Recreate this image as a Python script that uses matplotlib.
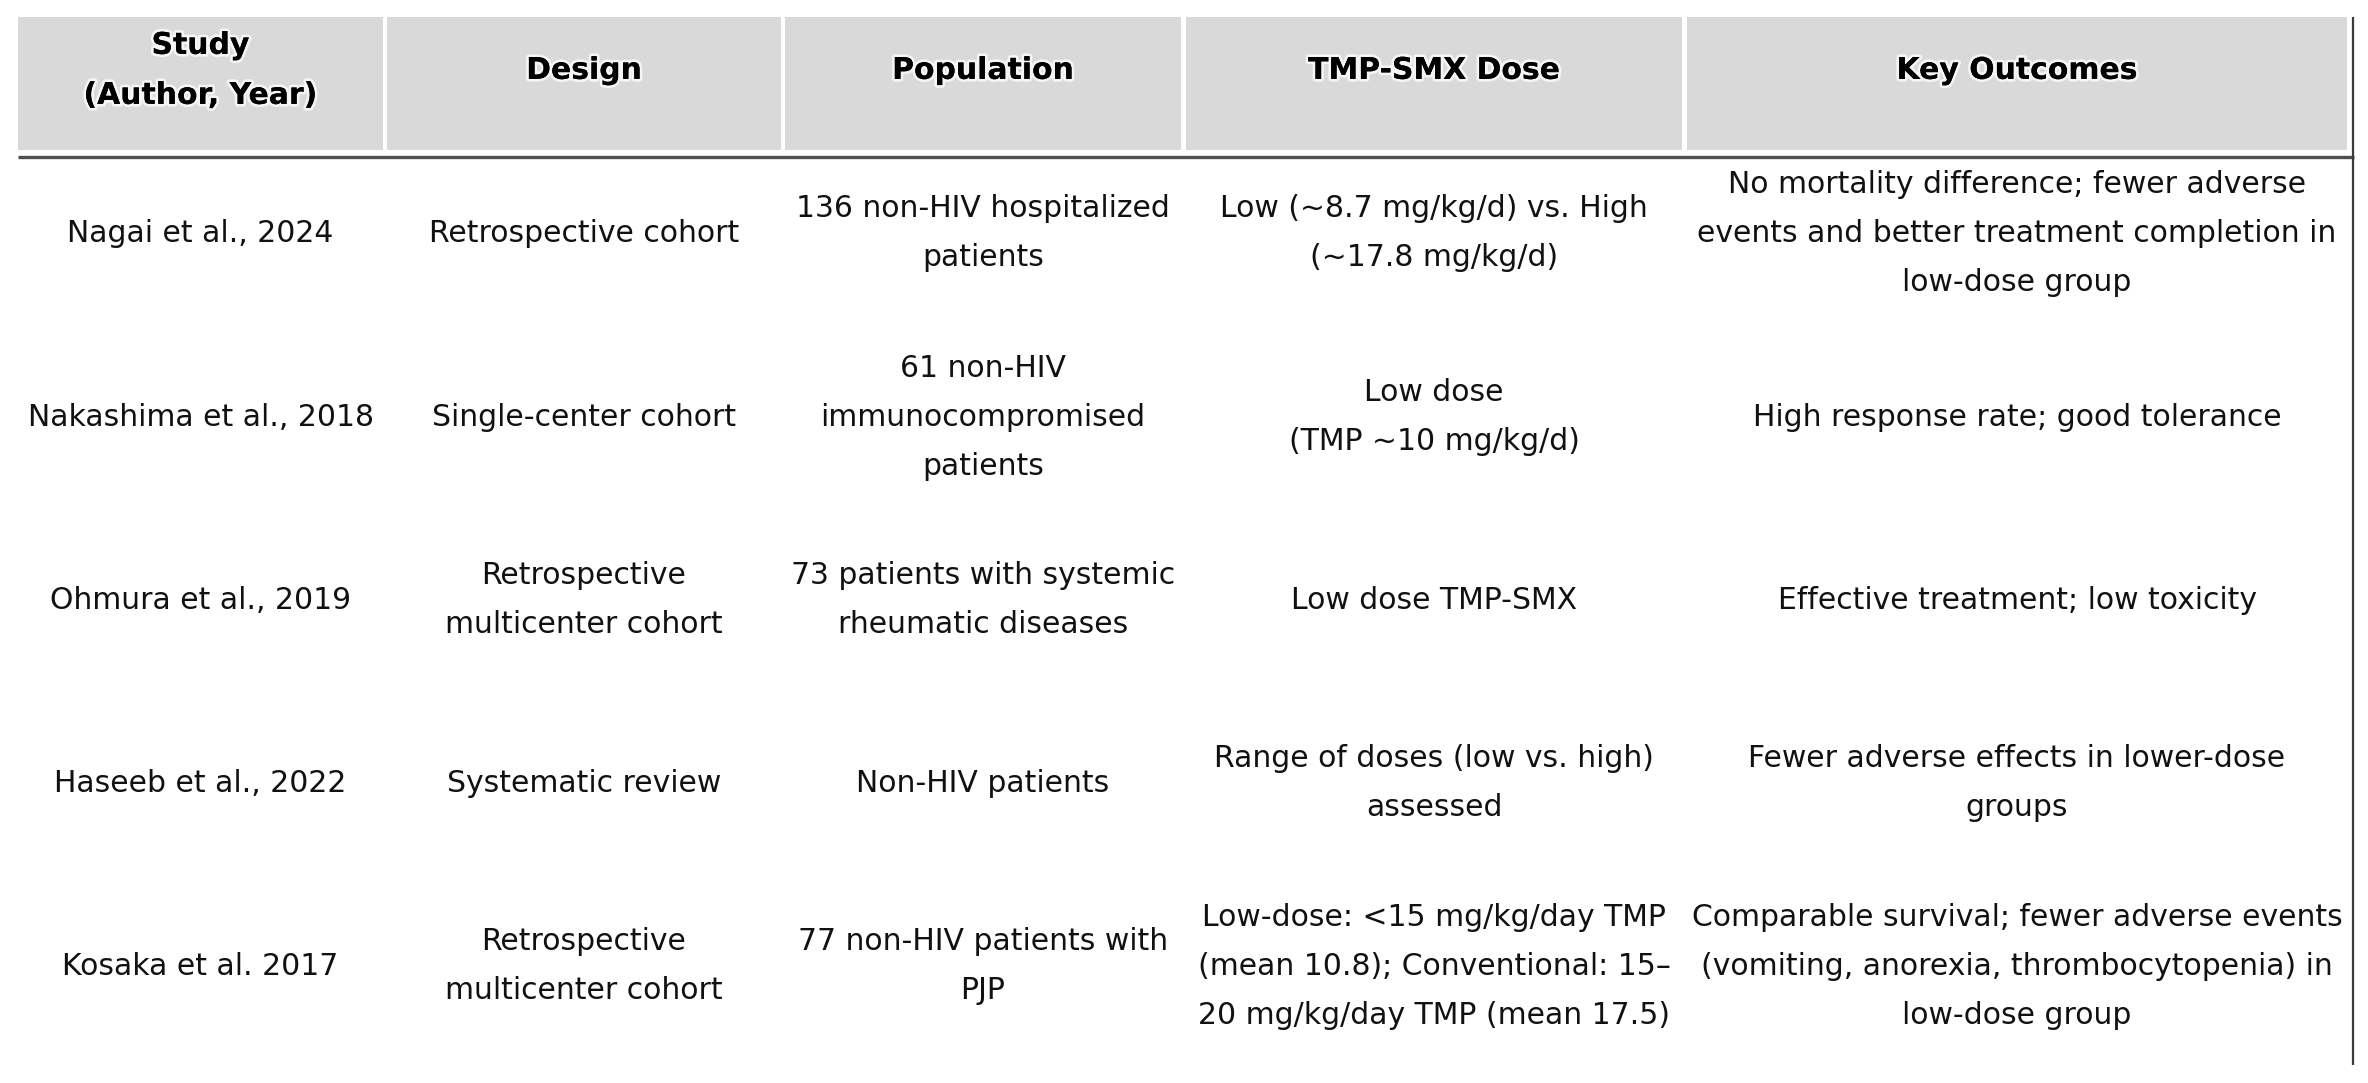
import matplotlib.pyplot as plt
import matplotlib.patheffects as pe
from matplotlib.patches import Rectangle

# table content
headers = ["Study\n(Author, Year)", "Design", "Population", "TMP-SMX Dose", "Key Outcomes"]
studies = ["Nagai et al., 2024", "Nakashima et al., 2018", "Ohmura et al., 2019",
           "Haseeb et al., 2022", "Kosaka et al. 2017"]
designs = ["Retrospective cohort", "Single-center cohort", "Retrospective\nmulticenter cohort",
           "Systematic review", "Retrospective\nmulticenter cohort"]
populations = ["136 non-HIV hospitalized\npatients",
               "61 non-HIV\nimmunocompromised\npatients",
               "73 patients with systemic\nrheumatic diseases",
               "Non-HIV patients",
               "77 non-HIV patients with\nPJP"]
doses = ["Low (~8.7 mg/kg/d) vs. High\n(~17.8 mg/kg/d)",
         "Low dose\n(TMP ~10 mg/kg/d)",
         "Low dose TMP-SMX",
         "Range of doses (low vs. high)\nassessed",
         "Low-dose: <15 mg/kg/day TMP\n(mean 10.8); Conventional: 15\u2013\n20 mg/kg/day TMP (mean 17.5)"]
outcomes = ["No mortality difference; fewer adverse\nevents and better treatment completion in\nlow-dose group",
            "High response rate; good tolerance",
            "Effective treatment; low toxicity",
            "Fewer adverse effects in lower-dose\ngroups",
            "Comparable survival; fewer adverse events\n(vomiting, anorexia, thrombocytopenia) in\nlow-dose group"]

W, H = 2368, 1083
dpi = 100
fig = plt.figure(figsize=(W / dpi, H / dpi), dpi=dpi)
ax = plt.Axes(fig, [0., 0., 1., 1.])
ax.set_axis_off()
fig.add_axes(ax)
ax.set_xlim(0, W)
ax.set_ylim(H, 0)

# layout in pixels
col_edges = [(18, 383), (387, 781), (785, 1181), (1186, 1682), (1687, 2347)]
head_top, head_bot = 17, 150
row_centers = [231, 415, 598, 781, 964]
fs = 21.5          # pt, ~30 px
cap = 21.7         # px cap height
body_gap = 49
head_gap = 50


def draw_lines(x, yc, txt, gap, **kw):
    lines = txt.split("\n")
    n = len(lines)
    for i, ln in enumerate(lines):
        y = yc + (i - (n - 1) / 2) * gap + cap / 2
        ax.text(x, y, ln, ha="center", va="baseline", **kw)


glow = [pe.withStroke(linewidth=4, foreground="white", alpha=0.75), pe.Normal()]

for (x0, x1), h in zip(col_edges, headers):
    ax.add_patch(Rectangle((x0, head_top), x1 - x0, head_bot - head_top,
                           facecolor="#d9d9d9", edgecolor="none"))
    draw_lines((x0 + x1) / 2, 68, h, head_gap, fontsize=fs, fontweight="bold",
               color="black", family="DejaVu Sans", path_effects=glow)

# rule under header and right border
ax.plot([18, 2354], [156.5, 156.5], color="#4f4f4f", lw=2.4, solid_capstyle="butt")
ax.plot([2353, 2353], [17, 1065], color="#3a3a3a", lw=1.6, solid_capstyle="butt")

columns = [studies, designs, populations, doses, outcomes]
for (x0, x1), col in zip(col_edges, columns):
    for yc, txt in zip(row_centers, col):
        draw_lines((x0 + x1) / 2, yc, txt, body_gap, fontsize=fs,
                   color="#111111", family="DejaVu Sans")

fig.savefig("out.png", dpi=dpi)
plt.close(fig)
